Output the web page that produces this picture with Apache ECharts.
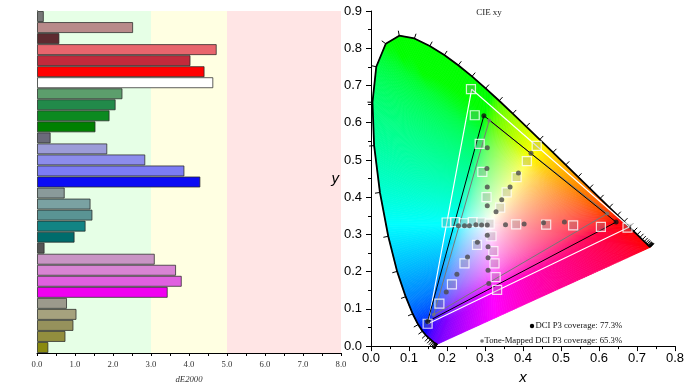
<!DOCTYPE html>
<html><head><meta charset="utf-8">
<script src="https://cdn.jsdelivr.net/npm/echarts/dist/echarts.min.js"></script>
<style>html,body{margin:0;padding:0;background:#fff}#c{width:693px;height:390px}</style>
</head><body><div id="c"></div>
<script>
// ---------- Left chart data (dE2000) ----------
const barCategories = ['C01','C02','C03','C04','C05','C06','C07','C08','C09','C10','C11','C12','C13','C14','C15','C16','C17','C18','C19','C20','C21','C22','C23','C24','C25','C26','C27','C28','C29','C30','C31'];
const barValues = [0.18,2.53,0.59,4.73,4.04,4.41,4.64,2.25,2.07,1.91,1.54,0.36,1.85,2.85,3.88,4.30,0.73,1.41,1.46,1.28,0.99,0.20,3.10,3.66,3.81,3.44,0.79,1.04,0.96,0.75,0.30];
const barColors = ['#777777','#b88a8a','#5e2a30','#e8656d','#c22a3c','#ff0000','#ffffff','#5c9e6c','#228a4a','#0c8a20','#008000','#6a6a7a','#9c9cd8','#8c8cec','#7c7cf4','#0c0cf4','#8a9a9a','#7aa2a2','#5a9494','#128484','#006c6c','#555555','#c894c4','#d884d4','#e060e0','#f000f0','#9c9a8c','#a6a27e','#96925c','#928e3e','#8a8a10'];
const bandEdges = [0, 3, 5, 8];
const xTickLabelsLeft = ['0.0','1.0','2.0','3.0','4.0','5.0','6.0','7.0','8.0'];

// ---------- Right chart data (CIE xy) ----------
const locusX = [0.1741,0.1740,0.1738,0.1736,0.1733,0.1730,0.1726,0.1721,0.1714,0.1703,0.1689,0.1669,0.1644,0.1611,0.1566,0.1510,0.1440,0.1355,0.1241,0.1096,0.0913,0.0687,0.0454,0.0235,0.0082,0.0039,0.0139,0.0389,0.0743,0.1142,0.1547,0.1929,0.2296,0.2658,0.3016,0.3373,0.3731,0.4087,0.4441,0.4788,0.5125,0.5448,0.5752,0.6029,0.6270,0.6482,0.6658,0.6801,0.6915,0.7006,0.7079,0.7140,0.7190,0.7230,0.7260,0.7283,0.7300,0.7311,0.7320,0.7327,0.7334,0.7340,0.7344,0.7346,0.7347];
const locusY = [0.0050,0.0050,0.0049,0.0049,0.0048,0.0048,0.0048,0.0048,0.0051,0.0058,0.0069,0.0086,0.0109,0.0138,0.0177,0.0227,0.0297,0.0399,0.0578,0.0868,0.1327,0.2007,0.2950,0.4127,0.5384,0.6548,0.7502,0.8120,0.8338,0.8262,0.8059,0.7816,0.7543,0.7243,0.6923,0.6589,0.6245,0.5896,0.5547,0.5202,0.4866,0.4544,0.4242,0.3965,0.3725,0.3514,0.3340,0.3197,0.3083,0.2993,0.2920,0.2859,0.2809,0.2770,0.2740,0.2717,0.2700,0.2689,0.2680,0.2673,0.2666,0.2660,0.2656,0.2654,0.2653];
const whitePoint = [0.3127, 0.3290];
const targetTriangle = [[0.680,0.320],[0.265,0.690],[0.150,0.060]];
const measuredTriangle = [[0.645,0.333],[0.297,0.619],[0.149,0.066]];
const toneMappedTriangle = [[0.622,0.356],[0.311,0.606],[0.165,0.084]];
const targetPoints = [
  [0.263,0.690],[0.273,0.620],[0.286,0.543],[0.293,0.468],[0.304,0.400],
  [0.436,0.538],[0.410,0.497],[0.383,0.454],[0.357,0.413],[0.340,0.372],
  [0.675,0.318],[0.605,0.320],[0.532,0.324],[0.461,0.326],[0.382,0.327],
  [0.332,0.151],[0.328,0.185],[0.325,0.222],[0.322,0.255],[0.317,0.295],
  [0.149,0.060],[0.180,0.114],[0.213,0.166],[0.246,0.222],[0.279,0.272],
  [0.199,0.332],[0.221,0.333],[0.244,0.330],[0.268,0.333],[0.290,0.332],
  [0.312,0.329]
];
const measuredPoints = [
  [0.306,0.533],[0.305,0.477],[0.306,0.427],[0.306,0.377],
  [0.421,0.518],[0.388,0.465],[0.366,0.427],[0.344,0.393],[0.329,0.361],
  [0.509,0.333],[0.454,0.331],[0.403,0.328],[0.354,0.326],
  [0.310,0.168],[0.308,0.204],[0.308,0.237],[0.308,0.267],[0.306,0.298],
  [0.198,0.145],[0.226,0.193],[0.254,0.239],[0.280,0.279],
  [0.230,0.323],[0.246,0.323],[0.259,0.323],[0.276,0.326],[0.291,0.325],
  [0.306,0.325]
];
const legendTexts = ['DCI P3 coverage: 77.3%', 'Tone-Mapped DCI P3 coverage: 65.3%'];
const chartTitle = 'CIE xy';

// ---------- helpers ----------
function gammaEnc(v){ return v <= 0.0031308 ? 12.92*v : 1.055*Math.pow(v,1/2.4)-0.055; }
function xyColor(x, y){
  const X = x/y, Y = 1, Z = (1-x-y)/y;
  let r = 3.2406*X - 1.5372*Y - 0.4986*Z;
  let g = -0.9689*X + 1.8758*Y + 0.0415*Z;
  let b = 0.0557*X - 0.2040*Y + 1.0570*Z;
  r = Math.max(r,0); g = Math.max(g,0); b = Math.max(b,0);
  const m = Math.max(r,g,b) || 1;
  r = Math.round(255*gammaEnc(r/m)); g = Math.round(255*gammaEnc(g/m)); b = Math.round(255*gammaEnc(b/m));
  return 'rgb('+r+','+g+','+b+')';
}
// closed outline used only for the colour fill tessellation (locus + line of purples)
const outline = locusX.map((x,i)=>[x, locusY[i]]).concat([[locusX[0], locusY[0]]]);
const boundary = [outline[0]];
for (let i=1;i<outline.length;i++){
  const a = outline[i-1], b = outline[i];
  const n = Math.max(1, Math.ceil(Math.hypot(b[0]-a[0], b[1]-a[1]) * 380 / 2.5));
  for (let k=1;k<=n;k++){ const t=k/n; boundary.push([a[0]+(b[0]-a[0])*t, a[1]+(b[1]-a[1])*t]); }
}
const fillData = boundary.slice(0,-1).map((p,i)=>[whitePoint[0], whitePoint[1], i]);
const stopsS = [0,0.04,0.08,0.12,0.16,0.2,0.25,0.3,0.36,0.42,0.5,0.6,0.7,0.8,0.9,1];

function fillRender(params, api){
  const i = api.value(2);
  const a = boundary[i], b = boundary[i+1];
  const pw = api.coord(whitePoint), pa = api.coord(a), pb = api.coord(b);
  const ex = pb[0]-pa[0], ey = pb[1]-pa[1];
  const L2 = ex*ex+ey*ey;
  const t = L2 > 1e-9 ? ((pw[0]-pa[0])*ex+(pw[1]-pa[1])*ey)/L2 : 0;
  const f = [pa[0]+t*ex, pa[1]+t*ey];
  const m = [(a[0]+b[0])/2, (a[1]+b[1])/2];
  const stops = stopsS.map(s => ({offset:s, color: xyColor(whitePoint[0]+s*(m[0]-whitePoint[0]), whitePoint[1]+s*(m[1]-whitePoint[1]))}));
  const grad = new echarts.graphic.LinearGradient(pw[0], pw[1], f[0], f[1], stops, true);
  return {type:'polygon', shape:{points:[pw,pa,pb]}, style:{fill:grad, stroke:grad, lineWidth:0.8}, silent:true};
}
function tickRender(params, api){
  const i = api.value(2);
  const p = api.coord([locusX[i], locusY[i]]);
  let j=i, k=i;
  while (j < locusX.length-1){ j++; const q=api.coord([locusX[j],locusY[j]]); if (Math.hypot(q[0]-p[0],q[1]-p[1])>3) break; }
  while (k > 0){ k--; const q=api.coord([locusX[k],locusY[k]]); if (Math.hypot(q[0]-p[0],q[1]-p[1])>3) break; }
  const a = api.coord([locusX[k],locusY[k]]), b = api.coord([locusX[j],locusY[j]]);
  let tx=b[0]-a[0], ty=b[1]-a[1]; const L=Math.hypot(tx,ty)||1; tx/=L; ty/=L;
  let nx=-ty, ny=tx;
  const w = api.coord(whitePoint);
  if ((p[0]-w[0])*nx+(p[1]-w[1])*ny < 0){ nx=-nx; ny=-ny; }
  return {type:'line', shape:{x1:p[0],y1:p[1],x2:p[0]+nx*5,y2:p[1]+ny*5}, style:{stroke:'#000', lineWidth:1}, silent:true};
}
const closeTri = t => t.concat([t[0]]);

const chart = echarts.init(document.getElementById('c'), null, {renderer:'canvas'});
const sansLbl = {fontFamily:'Liberation Sans', fontSize:13, color:'#000'};
chart.setOption({
  animation:false,
  backgroundColor:'#fff',
  grid:[
    {left:37, top:11, width:304, height:342},
    {left:371, top:11, width:304, height:342}
  ],
  xAxis:[
    {gridIndex:0, type:'value', min:0, max:8, interval:1,
     axisLine:{show:true, lineStyle:{color:'#000', width:1}},
     axisTick:{show:true, length:3, lineStyle:{color:'#000'}},
     minorTick:{show:true, splitNumber:2, length:3, lineStyle:{color:'#000'}},
     splitLine:{show:false}, minorSplitLine:{show:false},
     axisLabel:{formatter:(v)=>xTickLabelsLeft[Math.round(v)], fontFamily:'Liberation Serif', fontSize:8.7, color:'#333', margin:7},
     name:'dE2000', nameLocation:'middle', nameGap:22,
     nameTextStyle:{fontFamily:'Liberation Serif', fontStyle:'italic', fontSize:8.7, color:'#333'}},
    {gridIndex:1, type:'value', min:0, max:0.8, interval:0.1, z:10,
     axisLine:{show:true, lineStyle:{color:'#000', width:1}},
     axisTick:{show:true, length:5, lineStyle:{color:'#000'}},
     minorTick:{show:true, splitNumber:2, length:3, lineStyle:{color:'#000'}},
     splitLine:{show:false}, minorSplitLine:{show:false},
     axisLabel:Object.assign({formatter:(v)=>v.toFixed(1), margin:6}, sansLbl),
     name:'x', nameLocation:'middle', nameGap:21,
     nameTextStyle:{fontFamily:'Liberation Sans', fontStyle:'italic', fontSize:15, color:'#000'}}
  ],
  yAxis:[
    {gridIndex:0, type:'category', inverse:true, data:barCategories,
     axisLine:{show:true, lineStyle:{color:'#000', width:1}},
     axisTick:{show:false}, axisLabel:{show:false}, splitLine:{show:false}},
    {gridIndex:1, type:'value', min:0, max:0.9, interval:0.1, z:10,
     axisLine:{show:true, lineStyle:{color:'#000', width:1}},
     axisTick:{show:true, length:5, lineStyle:{color:'#000'}},
     minorTick:{show:true, splitNumber:2, length:3, lineStyle:{color:'#000'}},
     splitLine:{show:false}, minorSplitLine:{show:false},
     axisLabel:Object.assign({formatter:(v)=>v.toFixed(1), margin:9}, sansLbl),
     name:'y', nameLocation:'middle', nameGap:31, nameRotate:0,
     nameTextStyle:{fontFamily:'Liberation Sans', fontStyle:'italic', fontSize:15, color:'#000'}}
  ],
  series:[
    {type:'bar', xAxisIndex:0, yAxisIndex:0, barCategoryGap:'0%', silent:true,
     data:barValues.map((v,i)=>({value:v, itemStyle:{color:barColors[i]}})),
     itemStyle:{borderColor:'rgba(40,40,40,0.75)', borderWidth:1},
     markArea:{silent:true, data:[
       [{xAxis:bandEdges[0], itemStyle:{color:'#e6ffe6'}},{xAxis:bandEdges[1]}],
       [{xAxis:bandEdges[1], itemStyle:{color:'#ffffe2'}},{xAxis:bandEdges[2]}],
       [{xAxis:bandEdges[2], itemStyle:{color:'#ffe5e5'}},{xAxis:bandEdges[3]}]
     ]}},
    {type:'custom', xAxisIndex:1, yAxisIndex:1, renderItem:fillRender, data:fillData, z:1, silent:true},
    {type:'line', xAxisIndex:1, yAxisIndex:1, data:locusX.map((x,i)=>[x,locusY[i]]), symbol:'none',
     lineStyle:{color:'#000', width:1.8}, z:3, silent:true},
    {type:'custom', xAxisIndex:1, yAxisIndex:1, renderItem:tickRender, data:locusX.map((x,i)=>[x,locusY[i],i]), z:3, silent:true},
    {type:'line', xAxisIndex:1, yAxisIndex:1, data:closeTri(targetTriangle), symbol:'none', lineStyle:{color:'#fff', width:1.2}, z:4, silent:true},
    {type:'line', xAxisIndex:1, yAxisIndex:1, data:closeTri(toneMappedTriangle), symbol:'none', lineStyle:{color:'#777', width:1}, z:4, silent:true},
    {type:'line', xAxisIndex:1, yAxisIndex:1, data:closeTri(measuredTriangle), symbol:'none', lineStyle:{color:'#000', width:1}, z:4, silent:true},
    {type:'scatter', xAxisIndex:1, yAxisIndex:1, data:targetPoints, symbol:'rect', symbolSize:9,
     itemStyle:{color:'rgba(140,140,140,0.35)', borderColor:'#fff', borderWidth:1.2}, z:5, silent:true},
    {type:'scatter', xAxisIndex:1, yAxisIndex:1, data:measuredPoints, symbol:'circle', symbolSize:5,
     itemStyle:{color:'#4a4a4a'}, z:6, silent:true},
    {type:'scatter', xAxisIndex:1, yAxisIndex:1, data:toneMappedTriangle, symbol:'circle', symbolSize:4,
     itemStyle:{color:'#777'}, z:6, silent:true},
    {type:'scatter', xAxisIndex:1, yAxisIndex:1, data:measuredTriangle, symbol:'circle', symbolSize:5,
     itemStyle:{color:'#111'}, z:7, silent:true}
  ],
  graphic:[
    {type:'text', x:489, y:13, style:{text:chartTitle, font:'9px "Liberation Serif"', fill:'#222', textAlign:'center', textVerticalAlign:'middle'}},
    {type:'circle', shape:{cx:532, cy:326, r:2.2}, style:{fill:'#000'}},
    {type:'text', x:535.5, y:326, style:{text:legendTexts[0], font:'8.7px "Liberation Serif"', fill:'#111', textAlign:'left', textVerticalAlign:'middle'}},
    {type:'circle', shape:{cx:482, cy:341, r:1.8}, style:{fill:'#777'}},
    {type:'text', x:484.5, y:341, style:{text:legendTexts[1], font:'8.7px "Liberation Serif"', fill:'#111', textAlign:'left', textVerticalAlign:'middle'}}
  ]
});
</script>
</body></html>
